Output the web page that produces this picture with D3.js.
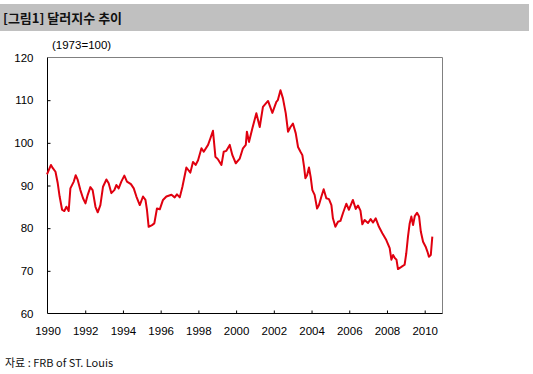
<!DOCTYPE html>
<html><head><meta charset="utf-8">
<script src="https://cdn.jsdelivr.net/npm/d3@7"></script>
<style>
html,body{margin:0;padding:0;background:#fff;}
svg{display:block;font-family:"Noto Sans CJK KR","Noto Sans",sans-serif;}
</style></head>
<body>
<svg id="c" width="533" height="374"></svg>
<script>
const title = "[그림1] 달러지수 추이";
const unitLabel = "(1973=100)";
const source = "자료 : FRB of ST. Louis";
const xTicks = [1990,1992,1994,1996,1998,2000,2002,2004,2006,2008,2010];
const yTicks = [60,70,80,90,100,110,120];
const dates = [1990.00,1990.21,1990.30,1990.45,1990.57,1990.67,1990.80,1990.92,1991.03,1991.15,
1991.24,1991.42,1991.52,1991.63,1991.77,1991.91,1992.04,1992.16,1992.30,1992.42,
1992.57,1992.69,1992.83,1992.97,1993.15,1993.27,1993.41,1993.57,1993.68,1993.80,
1993.94,1994.10,1994.24,1994.45,1994.60,1994.74,1994.92,1995.09,1995.22,1995.30,
1995.39,1995.57,1995.69,1995.83,1995.98,1996.15,1996.33,1996.60,1996.77,1996.89,
1997.04,1997.18,1997.39,1997.60,1997.74,1997.88,1998.01,1998.19,1998.31,1998.54,
1998.66,1998.80,1998.93,1999.07,1999.25,1999.37,1999.51,1999.69,1999.83,2000.01,
2000.22,2000.39,2000.54,2000.60,2000.71,2000.89,2001.10,2001.28,2001.45,2001.72,
2001.95,2002.16,2002.24,2002.38,2002.51,2002.66,2002.78,2002.91,2003.04,2003.19,
2003.31,2003.44,2003.54,2003.63,2003.70,2003.79,2003.89,2003.98,2004.07,2004.19,
2004.32,2004.42,2004.55,2004.67,2004.81,2004.95,2005.08,2005.16,2005.29,2005.43,
2005.56,2005.70,2005.87,2006.01,2006.22,2006.37,2006.49,2006.62,2006.72,2006.84,
2007.02,2007.16,2007.29,2007.43,2007.60,2007.78,2007.99,2008.17,2008.26,2008.35,
2008.44,2008.53,2008.61,2008.79,2008.96,2009.05,2009.14,2009.23,2009.32,2009.41,
2009.50,2009.62,2009.73,2009.82,2009.94,2010.09,2010.17,2010.25,2010.35,2010.43];
const values = [92.5,94.7,94.0,93.1,90.4,87.3,84.2,83.9,84.9,83.9,
89.2,90.8,92.3,91.2,88.8,86.9,85.7,87.7,89.5,88.8,
84.9,83.6,85.3,89.6,91.3,90.4,88.1,88.8,90.0,89.2,
90.8,92.2,90.8,90.2,89.2,87.3,85.3,87.3,86.5,84.2,
80.2,80.6,81.0,84.5,84.3,86.5,87.3,87.7,87.1,87.8,
87.1,89.6,94.1,92.9,95.4,94.7,95.8,98.6,97.8,99.4,
100.9,102.7,96.6,96.0,94.7,97.8,98.0,99.4,97.0,95.1,
96.2,98.6,99.4,102.5,100.1,103.3,106.8,103.6,108.3,109.7,
106.9,109.5,109.9,112.2,110.3,106.8,102.5,103.6,104.4,102.1,
98.9,97.8,97.0,94.3,91.6,92.3,94.1,91.9,88.8,87.7,
84.5,85.3,87.3,89.0,86.9,86.7,85.3,82.2,80.2,81.4,
81.6,83.5,85.6,84.2,86.5,84.4,85.2,84.0,80.8,81.8,
81.1,82.0,81.2,82.2,80.2,78.7,77.1,75.2,72.5,73.6,
72.9,72.5,70.3,70.8,71.3,74.0,77.9,81.0,82.6,80.6,
82.7,83.5,82.6,79.1,76.7,75.4,74.4,73.2,73.6,77.9];

const svg = d3.select("#c");
// title bar
svg.append("rect").attr("x",0).attr("y",4).attr("width",529).attr("height",27).attr("fill","#c0c0c0");
svg.append("text").attr("x",3).attr("y",23).attr("font-size",13).attr("font-weight","bold")
  .attr("fill","#111").text(title);

const L=47, R=442, T=57, B=313;
const x = d3.scaleLinear().domain([1990, 1990 + (R-L)/18.86]).range([L,R]);
const y = d3.scaleLinear().domain([60,120]).range([B,T]);

// frame top/right in gray
svg.append("path").attr("d",`M${L},${T}H${R}V${B}`).attr("fill","none").attr("stroke","#808080").attr("stroke-width",1)
  .attr("transform","translate(0.5,0.5)");

// y axis
const yAxis = d3.axisLeft(y).tickValues(yTicks).tickSize(-3).tickPadding(14).tickFormat(d3.format("d"));
const gy = svg.append("g").attr("transform",`translate(${L+0.5},0.5)`).call(yAxis);
// x axis
const xAxis = d3.axisBottom(x).tickValues(xTicks).tickSize(-3).tickPadding(13).tickFormat(d3.format("d"));
const gx = svg.append("g").attr("transform",`translate(0.5,${B+0.5})`).call(xAxis);
[gx,gy].forEach(g=>{
  g.select(".domain").attr("stroke","#000").attr("d", g===gx ? `M${L},0H${R}` : `M0,${T}V${B}`);
  g.selectAll(".tick line").attr("stroke","#000");
  g.selectAll(".tick text").attr("font-size",11.5).attr("fill","#000")
   .attr("font-family","'Liberation Sans',Arial,sans-serif");
});
gx.selectAll(".tick").filter(d=>d===1990).select("line").remove();
gy.selectAll(".tick").filter(d=>d===60||d===120).select("line").remove();

svg.append("text").attr("x",52).attr("y",49).attr("font-size",11.5)
  .attr("font-family","'Liberation Sans',Arial,sans-serif").text(unitLabel);

const line = d3.line().x((d,i)=>x(dates[i])).y(d=>y(d)).curve(d3.curveLinear);
svg.append("path").datum(values).attr("d",line).attr("fill","none")
  .attr("stroke","#e0000f").attr("stroke-width",2).attr("stroke-linejoin","round");

svg.append("text").attr("x",5).attr("y",367).attr("font-size",11).attr("fill","#111").text(source);
</script>
</body></html>
